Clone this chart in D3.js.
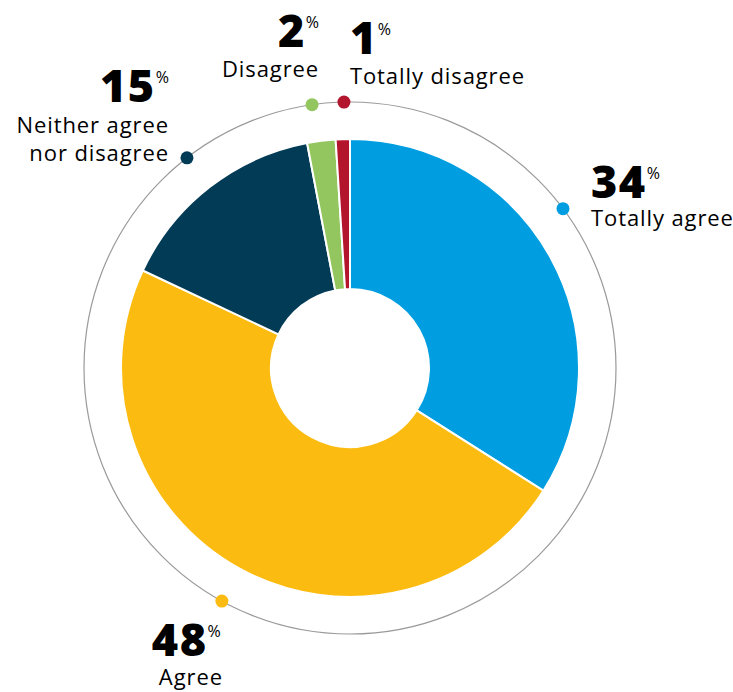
<!DOCTYPE html>
<html>
<head>
<meta charset="utf-8">
<script src="https://cdn.jsdelivr.net/npm/d3@7"></script>
<style>
  body { margin: 0; background: #fff; }
  svg { display: block; }
  .num { font-family: 'Open Sans', 'DejaVu Sans', sans-serif; font-weight: 800; font-size: 45px; fill: #000; letter-spacing: 1.5px; }
  .pct { font-family: 'Open Sans', sans-serif; font-weight: 400; font-size: 16px; fill: #000; letter-spacing: 0; }
  .lbl { font-family: 'Open Sans', 'DejaVu Sans', sans-serif; font-weight: 400; font-size: 22px; fill: #000; letter-spacing: 0.9px; }
</style>
</head>
<body>
<svg></svg>
<script>
// data
var categories = ['Totally agree', 'Agree', 'Neither agree nor disagree', 'Disagree', 'Totally disagree'];
var values     = [34, 48, 15, 2, 1];
var colors     = ['#009ee0', '#fbbb10', '#023b56', '#93c65e', '#b3152c'];
var labelLines = [['Totally agree'], ['Agree'], ['Neither agree', 'nor disagree'], ['Disagree'], ['Totally disagree']];

var width = 733, height = 692;
var cx = 350, cy = 368;
var rOuter = 229, rInner = 79, rRing = 266;

var svg = d3.select('svg')
    .attr('width', width)
    .attr('height', height);

var g = svg.append('g').attr('transform', 'translate(' + cx + ',' + cy + ')');

// thin outer ring
g.append('circle')
    .attr('r', rRing)
    .attr('fill', 'none')
    .attr('stroke', '#9a9a9a')
    .attr('stroke-width', 1.2);

var pie = d3.pie().sort(null).value(d => d);
var arc = d3.arc().innerRadius(rInner).outerRadius(rOuter);

var arcs = pie(values);

g.selectAll('.slice')
    .data(arcs)
    .enter()
    .append('path')
    .attr('class', 'slice')
    .attr('d', arc)
    .attr('fill', (d, i) => colors[i])
    .attr('stroke', '#fff')
    .attr('stroke-width', 2);

// label layout: angle nudge (deg), text anchor, x offset, baselines of number / first label line
var layout = [
  {nudge: -8, anchor: 'start',  dx: 28,  ny: -11, ly: 17, lx: 0},
  {nudge: 0,  anchor: 'start',  dx: -70, ny: 55,  ly: 84, lx: 7},
  {nudge: 0,  anchor: 'end',    dx: -18, ny: -56, ly: -25, lx: 0},
  {nudge: -1, anchor: 'end',    dx: 7,   ny: -58, ly: -28, lx: 0},
  {nudge: 0.5,anchor: 'start',  dx: 6,   ny: -48, ly: -18, lx: 0}
];

arcs.forEach((d, i) => {
  var L = layout[i];
  var a = (d.startAngle + d.endAngle) / 2 + L.nudge * Math.PI / 180;
  var x = rRing * Math.sin(a), y = -rRing * Math.cos(a);

  g.append('circle')
      .attr('cx', x).attr('cy', y)
      .attr('r', 6.5)
      .attr('fill', colors[i]);

  var num = g.append('text')
      .attr('class', 'num')
      .attr('x', x + L.dx)
      .attr('y', y + L.ny)
      .attr('text-anchor', L.anchor);
  num.append('tspan').text(values[i]);
  num.append('tspan').attr('class', 'pct').attr('dx', 0).attr('dy', -19).text('%');

  labelLines[i].forEach((line, j) => {
    g.append('text')
        .attr('class', 'lbl')
        .attr('x', x + L.dx + L.lx)
        .attr('y', y + L.ly + j * 28)
        .attr('text-anchor', L.anchor)
        .text(line);
  });
});
</script>
</body>
</html>
